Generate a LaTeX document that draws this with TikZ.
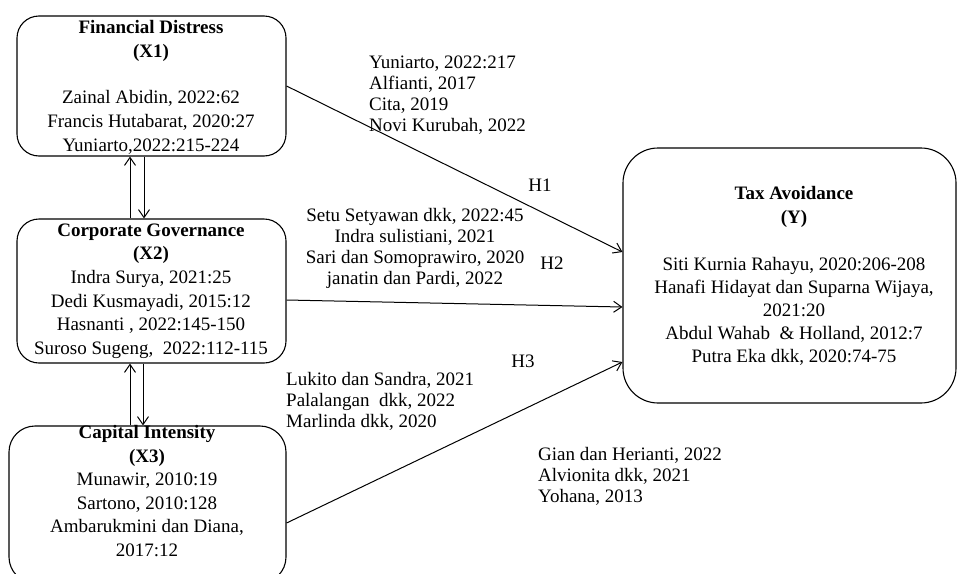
\documentclass[tikz,border=0pt]{standalone}
\usepackage{fontspec}
\setmainfont{Liberation Serif}
\usetikzlibrary{arrows.meta}
\begin{document}
\begin{tikzpicture}[x=1pt,y=-1pt,
  box/.style={draw,line width=1.1pt,inner sep=0pt},
  txt/.style={inner sep=0pt,align=center,font=\fontsize{19}{23.6}\selectfont},
  lbl/.style={inner sep=0pt,align=left,font=\fontsize{19}{21}\selectfont},
  arr/.style={line width=1pt,-{Straight Barb[length=8pt,width=11pt,line width=1pt]}}]
\useasboundingbox (0,0) rectangle (957,573);
% boxes
\node[box,rounded corners=22pt,minimum width=269pt,minimum height=140pt] (x1) at (151.5,86) {};
\node[box,rounded corners=22pt,minimum width=269pt,minimum height=144pt] (x2) at (151.5,291) {};
\node[box,rounded corners=26pt,minimum width=277pt,minimum height=157pt] (x3) at (147.5,504.5) {};
\node[box,rounded corners=35pt,minimum width=333pt,minimum height=255pt] (y) at (789.5,275.5) {};
% box texts
\node[txt,font=\fontsize{19}{24}\selectfont\bfseries] (t1) at (151,41) {Financial Distress\\(X1)};
\node[txt,font=\fontsize{19}{24}\selectfont] (r1) at (151,122) {Zainal Abidin, 2022:62\\Francis Hutabarat, 2020:27\\Yuniarto,2022:215-224};
\node[txt] (t2) at (151,291) {\textbf{Corporate Governance}\\\textbf{(X2)}\\Indra Surya, 2021:25\\Dedi Kusmayadi, 2015:12\\Hasnanti , 2022:145-150\\Suroso Sugeng,\ \ 2022:112-115};
\node[txt] (t3) at (147,491) {\textbf{Capital Intensity}\\\textbf{(X3)}\\Munawir, 2010:19\\Sartono, 2010:128\\Ambarukmini dan Diana,\\2017:12};
\node[txt,font=\fontsize{19}{24}\selectfont\bfseries] (ty) at (794,207) {Tax Avoidance\\(Y)};
\node[txt,font=\fontsize{19}{23}\selectfont] (ry) at (794,311) {Siti Kurnia Rahayu, 2020:206-208\\Hanafi Hidayat dan Suparna Wijaya,\\2021:20\\Abdul Wahab\ \ \& Holland, 2012:7\\Putra Eka dkk, 2020:74-75};
% vertical double arrows
\draw[arr] (x2.north -| 130,0) -- (x1.south -| 130,0);
\draw[arr] (x1.south -| 144,0) -- (x2.north -| 144,0);
\draw[arr] (x3.north -| 130,0) -- (x2.south -| 130,0);
\draw[arr] (x2.south -| 143,0) -- (x3.north -| 143,0);
% hypothesis arrows
\draw[arr] (x1.east |- 0,86) -- (y.west |- 0,252);
\draw[arr] (x2.east |- 0,300) -- (y.west |- 0,307);
\draw[arr] (x3.east |- 0,523) -- (y.west |- 0,362);
% labels
\node[lbl,anchor=west] (la) at (369,95.5) {Yuniarto, 2022:217\\Alfianti, 2017\\Cita, 2019\\Novi Kurubah, 2022};
\node[lbl,align=center] (lb) at (415,248) {Setu Setyawan dkk, 2022:45\\Indra sulistiani, 2021\\Sari dan Somoprawiro, 2020\\janatin dan Pardi, 2022};
\node[lbl,anchor=west] (lc) at (286,401) {Lukito dan Sandra, 2021\\Palalangan\ \ dkk, 2022\\Marlinda dkk, 2020};
\node[lbl,anchor=west] (ld) at (538,476) {Gian dan Herianti, 2022\\Alvionita dkk, 2021\\Yohana, 2013};
\node[lbl] (h1) at (540,185) {H1};
\node[lbl] (h2) at (552,263) {H2};
\node[lbl] (h3) at (523,361) {H3};
\end{tikzpicture}
\end{document}
